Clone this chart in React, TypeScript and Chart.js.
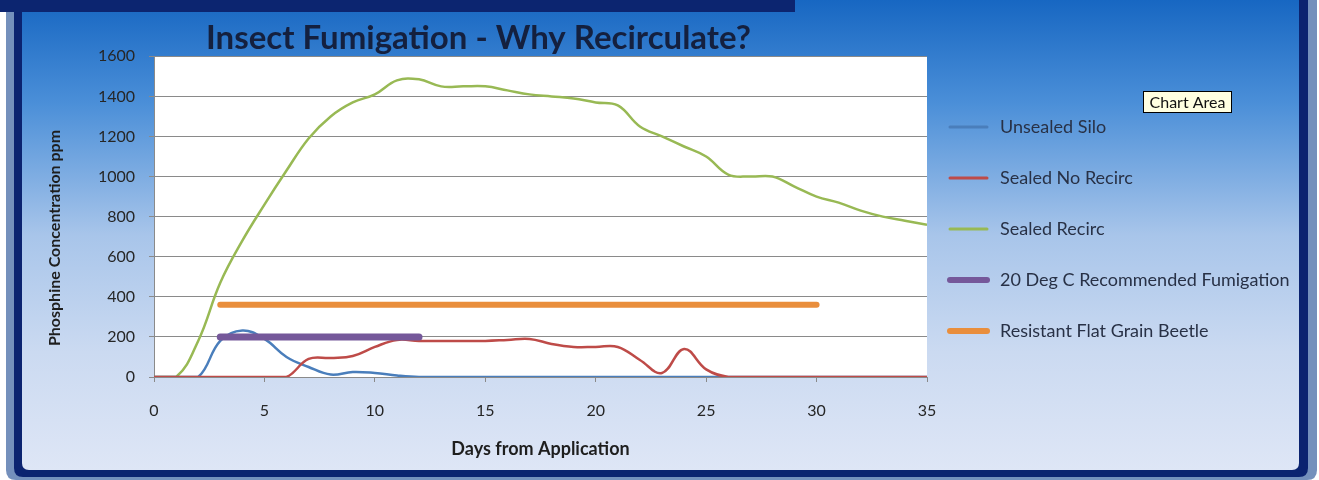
import React, { useEffect, useRef } from "react";
import { Chart, registerables } from "chart.js";

Chart.register(...registerables);

// ---------------- data ----------------
const days = [0, 1, 2, 3, 4, 5, 6, 7, 8, 9, 10, 11, 12, 13, 14, 15, 16, 17, 18, 19, 20, 21, 22, 23, 24, 25, 26, 27, 28, 29, 30, 31, 32, 33, 34, 35];
const unsealedSilo = [0, 0, 0, 180, 232, 190, 100, 50, 12, 25, 20, 8, 0, 0, 0, 0, 0, 0, 0, 0, 0, 0, 0, 0, 0, 0, 0, 0, 0, 0, 0, 0, 0, 0, 0, 0];
const sealedNoRecirc = [0, 0, 0, 0, 0, 0, 0, 90, 95, 105, 150, 185, 180, 180, 180, 180, 185, 190, 165, 150, 150, 150, 85, 20, 140, 38, 0, 0, 0, 0, 0, 0, 0, 0, 0, 0];
const sealedRecirc = [0, 0, 180, 470, 680, 860, 1030, 1190, 1300, 1370, 1410, 1480, 1485, 1450, 1450, 1450, 1430, 1410, 1400, 1390, 1370, 1355, 1250, 1200, 1150, 1100, 1010, 1000, 1000, 950, 900, 870, 830, 800, 780, 760];
const fumigationDays = [3, 12];
const fumigationLevel = [200, 200];
const beetleDays = [3, 30];
const beetleLevel = [360, 360];

const seriesNames = [
  "Unsealed Silo",
  "Sealed No Recirc",
  "Sealed Recirc",
  "20 Deg C Recommended Fumigation",
  "Resistant Flat Grain Beetle",
];
const seriesColors = ["#4A7EBB", "#BE4B48", "#98B954", "#75589A", "#E98E3C"];
const seriesWidths = [2.5, 2.5, 2.5, 7, 6];
const legendWidths = [3, 3, 3, 6, 6];

const chartTitle = "Insect Fumigation - Why Recirculate?";
const xAxisTitle = "Days from Application";
const yAxisTitle = "Phosphine Concentration ppm";
const xMin = 0, xMax = 35, xStep = 5;
const yMin = 0, yMax = 1600, yStep = 200;

const W = 1319;
const H = 480;
const FONT = "Lato, 'Open Sans', sans-serif";

function toPoints(xs: number[], ys: number[]) {
  return xs.map((x, i) => ({ x, y: ys[i] }));
}

function roundRect(ctx: CanvasRenderingContext2D, x: number, y: number, w: number, h: number, r: number) {
  ctx.beginPath();
  ctx.moveTo(x + r, y);
  ctx.lineTo(x + w - r, y);
  ctx.quadraticCurveTo(x + w, y, x + w, y + r);
  ctx.lineTo(x + w, y + h - r);
  ctx.quadraticCurveTo(x + w, y + h, x + w - r, y + h);
  ctx.lineTo(x + r, y + h);
  ctx.quadraticCurveTo(x, y + h, x, y + h - r);
  ctx.lineTo(x, y + r);
  ctx.quadraticCurveTo(x, y, x + r, y);
  ctx.closePath();
}

const backgroundPlugin = {
  id: "frameBackground",
  beforeDraw(chart: any) {
    const ctx: CanvasRenderingContext2D = chart.ctx;
    const ca = chart.chartArea;
    ctx.save();
    ctx.fillStyle = "#ffffff";
    ctx.fillRect(0, 0, W, H);
    // outer grey-blue frame
    ctx.fillStyle = "#7490BC";
    roundRect(ctx, 6, -20, 1311, 500, 10);
    ctx.fill();
    // navy frame
    ctx.fillStyle = "#0B2370";
    roundRect(ctx, 14, -20, 1294, 497, 9);
    ctx.fill();
    // inner gradient
    const g = ctx.createLinearGradient(0, 0, 0, 470);
    g.addColorStop(0, "#1767C2");
    g.addColorStop(0.22, "#4B8FD8");
    g.addColorStop(0.5, "#A8C5EA");
    g.addColorStop(0.75, "#CBDAF1");
    g.addColorStop(1, "#DEE6F6");
    ctx.fillStyle = g;
    roundRect(ctx, 22, -20, 1277, 490, 7);
    ctx.fill();
    // top navy bar
    ctx.fillStyle = "#0C2570";
    ctx.fillRect(0, 0, 795, 12);
    // plot area white
    ctx.fillStyle = "#ffffff";
    ctx.fillRect(ca.left, ca.top, ca.right - ca.left, ca.bottom - ca.top);
    ctx.restore();
  },
  afterDraw(chart: any) {
    const ctx: CanvasRenderingContext2D = chart.ctx;
    ctx.save();
    // y-axis title
    ctx.translate(55, 238);
    ctx.rotate(-Math.PI / 2);
    ctx.font = `bold 16px ${FONT}`;
    ctx.fillStyle = "#1E1E1E";
    ctx.textAlign = "center";
    ctx.textBaseline = "middle";
    ctx.fillText(yAxisTitle, 0, 0);
    ctx.restore();

    // legend
    ctx.save();
    ctx.textAlign = "left";
    ctx.textBaseline = "middle";
    ctx.font = `18px ${FONT}`;
    chart.data.datasets.forEach((ds: any, i: number) => {
      const y = 127 + i * 51;
      ctx.strokeStyle = ds.borderColor;
      ctx.lineWidth = legendWidths[i];
      ctx.lineCap = "round";
      ctx.beginPath();
      ctx.moveTo(950, y);
      ctx.lineTo(987, y);
      ctx.stroke();
      ctx.fillStyle = "#283146";
      ctx.fillText(ds.label, 1000, y);
    });
    ctx.restore();

    // "Chart Area" hover box
    ctx.save();
    ctx.fillStyle = "#FFFFE1";
    ctx.fillRect(1143, 91, 89, 22);
    ctx.strokeStyle = "#000000";
    ctx.lineWidth = 1;
    ctx.strokeRect(1143.5, 91.5, 88, 21);
    ctx.fillStyle = "#111111";
    ctx.font = `16px ${FONT}`;
    ctx.textAlign = "center";
    ctx.textBaseline = "middle";
    ctx.fillText("Chart Area", 1187.5, 102.5);
    ctx.restore();
  },
};

export default function App() {
  const canvasRef = useRef<HTMLCanvasElement | null>(null);

  useEffect(() => {
    document.body.style.margin = "0";
    const canvas = canvasRef.current;
    if (!canvas) return;

    const lineSeries = [unsealedSilo, sealedNoRecirc, sealedRecirc];
    const datasets: any[] = lineSeries.map((vals, i) => ({
      label: seriesNames[i],
      data: toPoints(days, vals),
      borderColor: seriesColors[i],
      backgroundColor: seriesColors[i],
      borderWidth: seriesWidths[i],
      pointRadius: 0,
      tension: 0.4,
      fill: false,
      order: [3, 2, 4][i],
    }));
    datasets.push({
      label: seriesNames[3],
      data: toPoints(fumigationDays, fumigationLevel),
      borderColor: seriesColors[3],
      backgroundColor: seriesColors[3],
      borderWidth: seriesWidths[3],
      borderCapStyle: "round",
      pointRadius: 0,
      tension: 0,
      order: 0,
    });
    datasets.push({
      label: seriesNames[4],
      data: toPoints(beetleDays, beetleLevel),
      borderColor: seriesColors[4],
      backgroundColor: seriesColors[4],
      borderWidth: seriesWidths[4],
      borderCapStyle: "round",
      pointRadius: 0,
      tension: 0,
      order: 1,
    });

    const chart = new Chart(canvas, {
      type: "line",
      data: { datasets },
      plugins: [backgroundPlugin],
      options: {
        responsive: false,
        animation: false,
        devicePixelRatio: 1,
        layout: { padding: { left: 30, right: W - 927, top: 0, bottom: 20 } },
        plugins: {
          legend: { display: false },
          tooltip: { enabled: false },
          title: {
            display: true,
            text: chartTitle,
            color: "#14203F",
            font: { family: FONT, size: 33, weight: "bold", lineHeight: 1.1 },
            padding: { top: 20, bottom: 0 },
          },
        },
        scales: {
          x: {
            type: "linear",
            min: xMin,
            max: xMax,
            ticks: {
              stepSize: xStep,
              padding: 19,
              color: "#262626",
              font: { family: FONT, size: 16 },
              maxRotation: 0,
              callback: (v: any) => String(v),
            },
            grid: {
              drawOnChartArea: false,
              drawTicks: true,
              tickLength: 5,
              color: "#8A8A8A",
            },
            border: { color: "#8A8A8A" },
            title: {
              display: true,
              text: xAxisTitle,
              color: "#1E1E1E",
              font: { family: FONT, size: 18, weight: "bold", lineHeight: 1.2 },
              padding: { top: 0, bottom: 0 },
            },
            afterFit(scale: any) {
              scale.height = 83;
            },
          },
          y: {
            type: "linear",
            min: yMin,
            max: yMax,
            ticks: {
              stepSize: yStep,
              padding: 14,
              color: "#262626",
              font: { family: FONT, size: 16 },
              callback: (v: any) => String(v),
            },
            grid: {
              drawTicks: true,
              tickLength: 5,
              color: "#8A8A8A",
            },
            border: { color: "#8A8A8A" },
            afterFit(scale: any) {
              scale.width = 124;
            },
          },
        },
      },
    });
    return () => chart.destroy();
  }, []);

  return (
    <div style={{ position: "absolute", left: 0, top: 0, width: W, height: H }}>
      <canvas ref={canvasRef} width={W} height={H} style={{ display: "block" }} />
    </div>
  );
}
